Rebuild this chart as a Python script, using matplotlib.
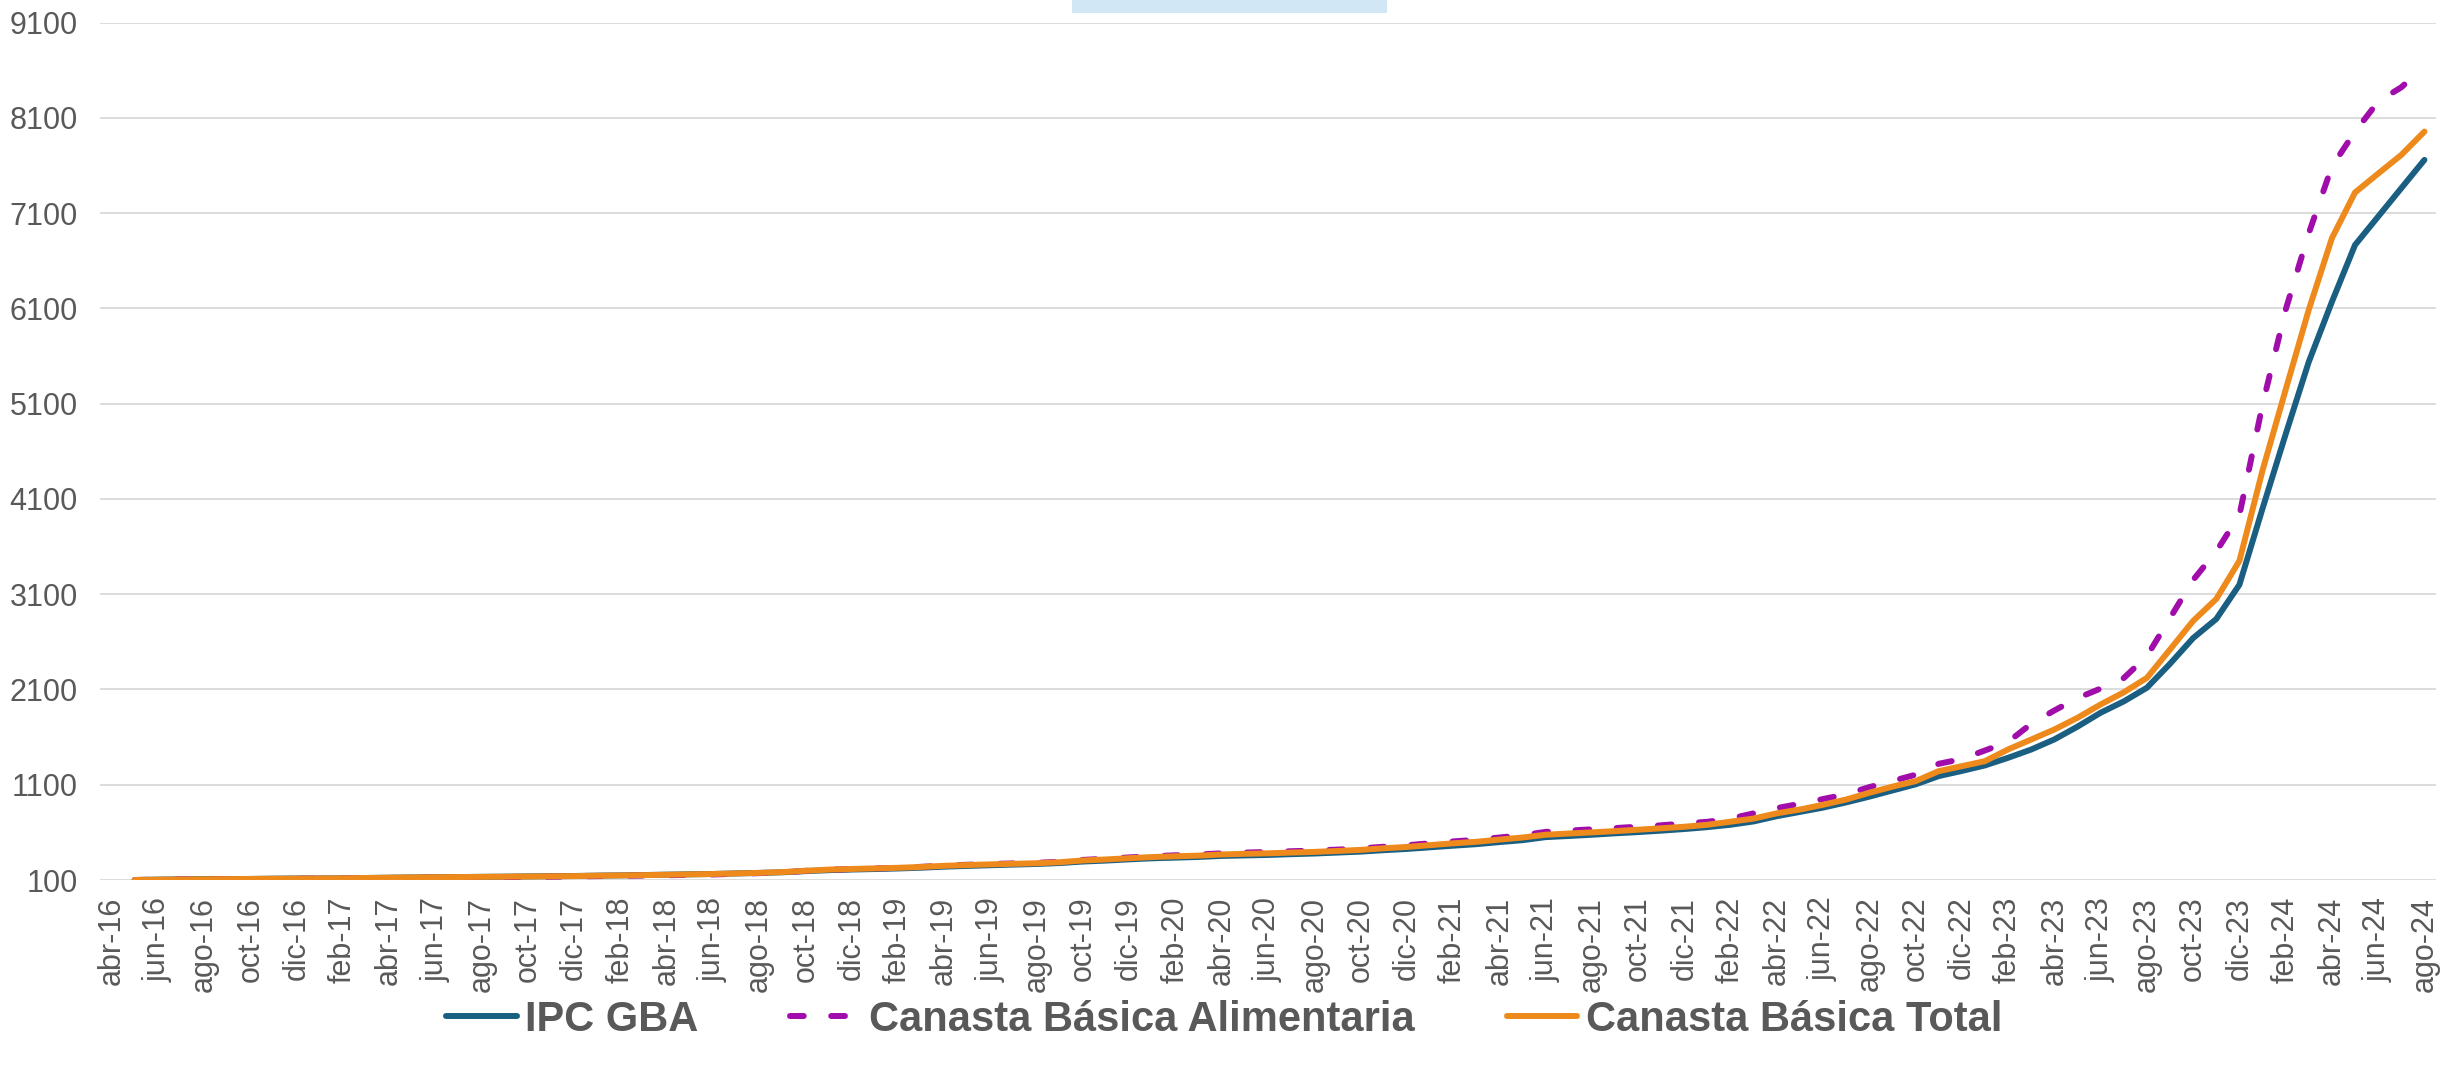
import numpy as np
import matplotlib
matplotlib.use("Agg")
import matplotlib.pyplot as plt
from matplotlib.patches import Rectangle

plt.rcParams['font.family'] = ['Liberation Sans', 'DejaVu Sans']

# Categories: abr-16 ... ago-24 (monthly)
meses = ["ene", "feb", "mar", "abr", "may", "jun", "jul", "ago", "sep", "oct", "nov", "dic"]
categorias = []
for anio in range(16, 25):
    for m, nombre in enumerate(meses):
        if (anio == 16 and m < 3) or (anio == 24 and m > 7):
            continue
        categorias.append(f"{nombre}-{anio}")

nan = np.nan
ipc_gba = [nan,
    100, 104, 107, 110, 110, 111, 114, 116, 117, 118,
    121, 124, 127, 129, 131, 133, 135, 138, 140, 142,
    146, 149, 152, 156, 160, 163, 169, 174, 181, 193,
    203, 210, 215, 221, 229, 240, 248, 255, 262, 268,
    278, 294, 304, 317, 328, 335, 342, 353, 358, 363,
    371, 378, 388, 398, 413, 426, 443, 460, 476, 498,
    518, 550, 562, 575, 590, 603, 618, 635, 655, 680,
    715, 770, 815, 860, 915, 975, 1040, 1104, 1191, 1245,
    1303, 1383, 1470, 1576, 1710, 1856, 1975, 2118, 2370, 2640,
    2840, 3200, 4000, 4780, 5540, 6170, 6767, 7065, 7363, 7660]

canasta_alimentaria = [nan,
    100, 103, 106, 108, 108, 109, 111, 113, 114, 115,
    118, 121, 124, 126, 127, 129, 131, 133, 135, 137,
    141, 144, 147, 150, 154, 158, 165, 172, 181, 196,
    208, 215, 221, 228, 238, 251, 260, 268, 274, 280,
    292, 311, 323, 337, 350, 359, 367, 380, 388, 394,
    402, 409, 419, 431, 449, 465, 485, 505, 522, 546,
    570, 605, 619, 632, 645, 660, 674, 694, 711, 745,
    800, 855, 900, 950, 1000, 1075, 1140, 1205, 1320, 1370,
    1460, 1550, 1740, 1880, 2010, 2110, 2220, 2450, 2850, 3250,
    3550, 3930, 5090, 6087, 6890, 7590, 7957, 8272, 8422, 8640]

canasta_total = [nan,
    100, 103, 106, 108, 109, 111, 113, 115, 116, 118,
    121, 124, 127, 129, 131, 133, 135, 137, 139, 141,
    145, 148, 151, 155, 159, 163, 169, 175, 183, 197,
    209, 216, 222, 228, 237, 249, 257, 264, 270, 276,
    287, 305, 316, 329, 341, 349, 356, 368, 375, 380,
    388, 395, 405, 416, 433, 447, 466, 485, 501, 524,
    546, 575, 588, 600, 613, 628, 643, 659, 680, 712,
    745, 800, 840, 890, 945, 1016, 1080, 1138, 1243, 1295,
    1348, 1471, 1575, 1680, 1803, 1943, 2070, 2222, 2520, 2820,
    3050, 3450, 4400, 5247, 6087, 6838, 7318, 7516, 7712, 7957]

nombres = ["IPC GBA", "Canasta Básica Alimentaria", "Canasta Básica Total"]
y_ticks = list(range(100, 9101, 1000))

c_ipc = "#1A5F82"
c_cba = "#A10DAA"
c_cbt = "#EE8A1B"
c_text = "#595959"
c_grid = "#D9D9D9"

W, H = 2441, 1082
fig = plt.figure(figsize=(W / 100, H / 100), dpi=100)
ax = fig.add_axes([100 / W, 1 - 880 / H, (2436 - 100) / W, (880 - 22.7) / H])

x = np.arange(len(categorias))
ax.plot(x, ipc_gba, color=c_ipc, lw=4.3, solid_capstyle='round', solid_joinstyle='round',
        label=nombres[0], zorder=3)
ax.plot(x, canasta_alimentaria, color=c_cba, lw=4.3, linestyle=(0, (2.3, 4.6)),
        dash_capstyle='round', dash_joinstyle='round', label=nombres[1], zorder=4)
ax.plot(x, canasta_total, color=c_cbt, lw=4.3, solid_capstyle='round', solid_joinstyle='round',
        label=nombres[2], zorder=5)

ax.set_xlim(-0.5, len(categorias) - 0.5)
ax.set_ylim(100, 9100)
ax.set_yticks(y_ticks)
ax.set_yticklabels([str(v) for v in y_ticks])
ax.set_xticks(x[::2])
ax.set_xticklabels(categorias[::2], rotation=90)

ax.grid(axis='y', color=c_grid, lw=1.3)
ax.set_axisbelow(True)
for s in ax.spines.values():
    s.set_visible(False)
ax.tick_params(axis='both', length=0, colors=c_text, labelsize=22)
ax.tick_params(axis='x', pad=12)
ax.tick_params(axis='y', pad=16)

leg = fig.legend(loc='center', bbox_to_anchor=(0.5015, 1 - 1020 / H), ncol=3, frameon=False,
                 prop={'weight': 'bold', 'size': 30}, handlelength=1.7, handletextpad=0.2,
                 columnspacing=2.2, labelcolor=c_text)

fig.patches.append(Rectangle((1072 / W, 1 - 12.7 / H), (1387 - 1072) / W, 12.7 / H,
                             transform=fig.transFigure, facecolor="#D2E7F5", edgecolor='none'))

fig.savefig("out.png", dpi=100)
